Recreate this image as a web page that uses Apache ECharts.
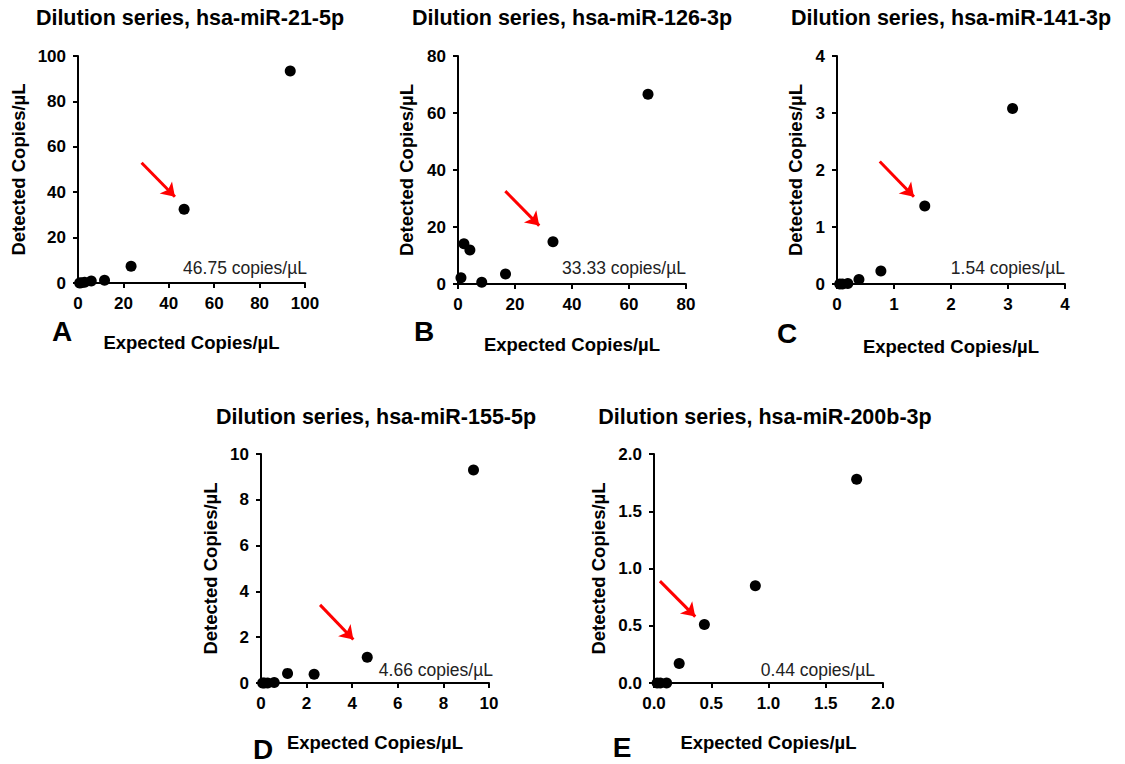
<!DOCTYPE html>
<html><head><meta charset="utf-8">
<script src="https://cdn.jsdelivr.net/npm/echarts@6/dist/echarts.min.js"></script>
<style>html,body{margin:0;padding:0;background:#fff}#c{width:1125px;height:764px}</style>
</head><body><div id="c"></div>
<script>
// ---- data ----
const titles = ['Dilution series, hsa-miR-21-5p','Dilution series, hsa-miR-126-3p','Dilution series, hsa-miR-141-3p','Dilution series, hsa-miR-155-5p','Dilution series, hsa-miR-200b-3p'];
const letters = ['A','B','C','D','E'];
const annotations = ['46.75 copies/µL','33.33 copies/µL','1.54 copies/µL','4.66 copies/µL','0.44 copies/µL'];
const xName = 'Expected Copies/µL';
const yName = 'Detected Copies/µL';
const axisMax = [100, 80, 4, 10, 2];
const axisInterval = [20, 20, 1, 2, 0.5];
const axisDecimals = [0, 0, 0, 0, 1];

const expectedA = [93.5, 46.75, 23.38, 11.69, 5.84, 2.92, 1.46, 0.73];
const detectedA = [93.4, 32.5, 7.4, 1.2, 0.9, 0.3, 0.1, 0.0];
const expectedB = [66.67, 33.33, 16.67, 8.33, 4.17, 2.08, 1.04];
const detectedB = [66.6, 14.8, 3.5, 0.6, 11.9, 14.1, 2.2];
const expectedC = [3.08, 1.54, 0.77, 0.385, 0.19, 0.096, 0.048];
const detectedC = [3.08, 1.37, 0.23, 0.08, 0.01, 0.0, 0.0];
const expectedD = [9.32, 4.66, 2.33, 1.165, 0.58, 0.29, 0.146, 0.073];
const detectedD = [9.3, 1.12, 0.38, 0.42, 0.02, 0.0, 0.0, 0.0];
const expectedE = [1.77, 0.885, 0.44, 0.22, 0.11, 0.055, 0.0275];
const detectedE = [1.78, 0.85, 0.51, 0.17, 0.0, 0.0, 0.0];

// arrow start / end in data coordinates
const arrowA = [[28, 53], [42.7, 38]];
const arrowB = [[16.6, 32.6], [28.5, 20.5]];
const arrowC = [[0.75, 2.15], [1.35, 1.53]];
const arrowD = [[2.59, 3.41], [4.05, 1.9]];
const arrowE = [[0.052, 0.89], [0.36, 0.58]];

const expected = [expectedA, expectedB, expectedC, expectedD, expectedE];
const detected = [detectedA, detectedB, detectedC, detectedD, detectedE];
const arrows = [arrowA, arrowB, arrowC, arrowD, arrowE];

// ---- layout ----
const grids = [
  {left: 78, top: 56, width: 227, height: 227},
  {left: 458, top: 56, width: 228, height: 228},
  {left: 837, top: 56, width: 228, height: 228},
  {left: 261, top: 454, width: 228, height: 229},
  {left: 654, top: 454, width: 229, height: 229}
];
const titlePos = [[190,18],[572,18],[951,18],[376,417],[765,417]];
const letterPos = [[62,331],[424,331],[787,333],[263,749],[622,747]];
const annoPos = [[307,268],[686,268],[1065,268],[493,670],[875,670]];
const yNameGap = [50, 42, 32, 41, 46];
const xNameGap = [50, 51, 53, 50, 50];

const FONT = '"Liberation Sans", Arial, sans-serif';
const axisCommon = (i) => ({
  type: 'value', min: 0, max: axisMax[i], interval: axisInterval[i],
  splitLine: {show: false},
  axisLine: {show: true, onZero: false, lineStyle: {color: '#000', width: 2}},
  axisTick: {show: true, length: 5, lineStyle: {color: '#000', width: 2}},
  axisLabel: {color: '#000', fontWeight: 'bold', fontSize: 17, fontFamily: FONT, margin: 12,
    formatter: (v) => v.toFixed(axisDecimals[i])},
  nameLocation: 'middle',
  nameTextStyle: {color: '#000', fontWeight: 'bold', fontSize: 18.5, fontFamily: FONT}
});

const option = {
  backgroundColor: '#fff',
  animation: false,
  grid: grids.map(g => Object.assign({containLabel: false}, g)),
  xAxis: grids.map((g, i) => Object.assign(axisCommon(i), {gridIndex: i, name: xName, nameGap: xNameGap[i]})),
  yAxis: grids.map((g, i) => Object.assign(axisCommon(i), {gridIndex: i, name: yName, nameGap: yNameGap[i]})),
  series: grids.map((g, i) => ({
    type: 'scatter', xAxisIndex: i, yAxisIndex: i,
    symbolSize: 11, itemStyle: {color: '#000', opacity: 1},
    data: expected[i].map((x, k) => [x, detected[i][k]]),
    markLine: {
      silent: true, symbol: ['none', 'arrow'], symbolSize: [13, 13],
      label: {show: false},
      lineStyle: {color: '#ff0000', width: 3, type: 'solid'},
      data: [[{coord: arrows[i][0]}, {coord: arrows[i][1]}]]
    }
  })),
  graphic: [].concat(
    titles.map((t, i) => ({type: 'text', x: titlePos[i][0], y: titlePos[i][1],
      style: {text: t, fill: '#000', font: 'bold 21.5px ' + FONT, align: 'center', verticalAlign: 'middle'}})),
    letters.map((t, i) => ({type: 'text', x: letterPos[i][0], y: letterPos[i][1],
      style: {text: t, fill: '#000', font: 'bold 28px ' + FONT, align: 'center', verticalAlign: 'middle'}})),
    annotations.map((t, i) => ({type: 'text', x: annoPos[i][0], y: annoPos[i][1],
      style: {text: t, fill: '#222', font: '17.5px ' + FONT, align: 'right', verticalAlign: 'middle'}}))
  )
};
const chart = echarts.init(document.getElementById('c'), null, {renderer: 'svg'});
chart.setOption(option);
</script></body></html>
